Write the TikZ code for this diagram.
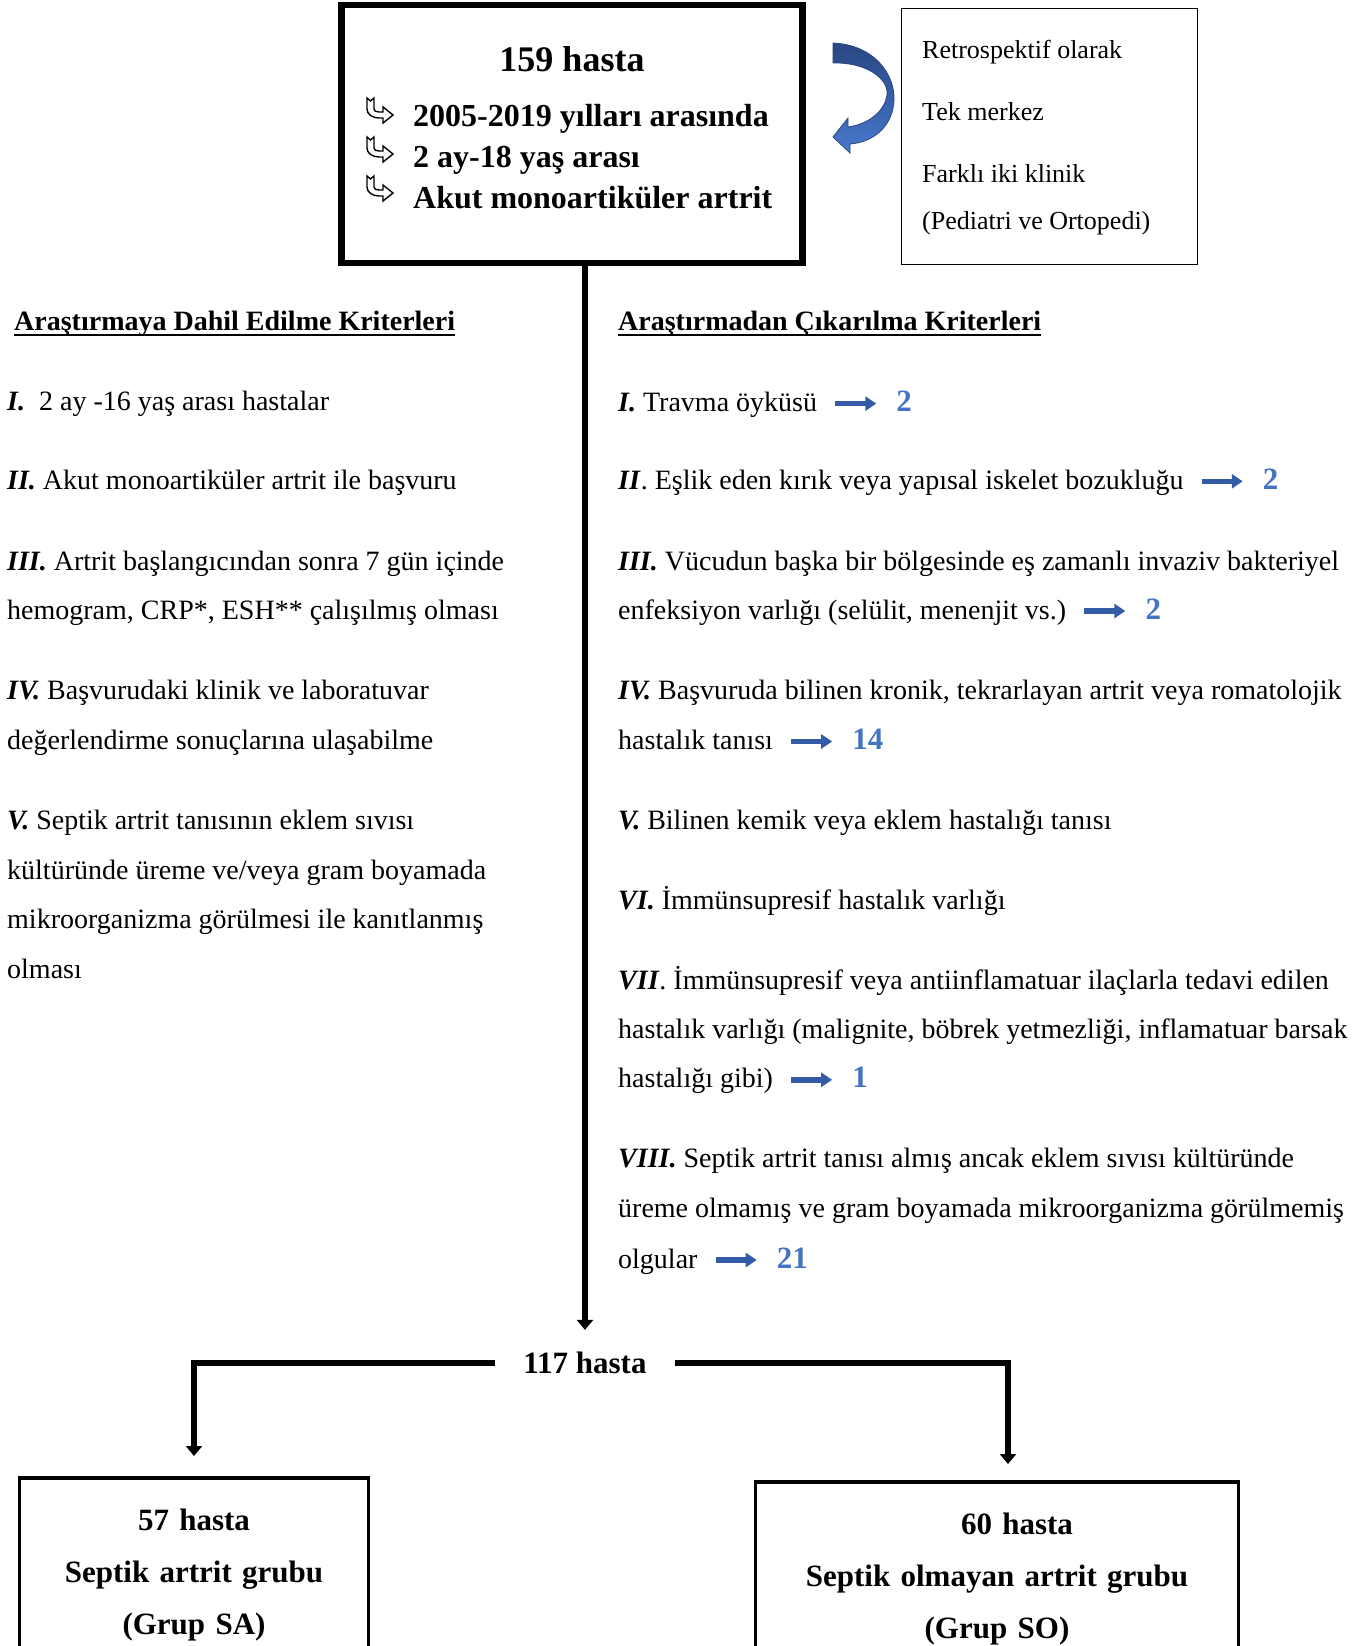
\documentclass[tikz,border=0pt]{standalone}
\usepackage{fontspec}
\setmainfont{Liberation Serif}
\usetikzlibrary{positioning, arrows.meta}

\definecolor{numblue}{RGB}{68,114,196}
\definecolor{arrowblue}{RGB}{52,92,166}
\definecolor{arrowdark}{RGB}{40,70,130}
\definecolor{arrowlight}{RGB}{72,120,205}

\newcommand{\critfont}{\fontsize{28}{49.5}\selectfont}
\newcommand{\romnum}[1]{\textbf{\textit{#1}}}
\newcommand{\hdrline}[1]{\setbox0\hbox{#1}\rlap{\rule[-5.5pt]{\wd0}{1.8pt}}\box0}

\tikzset{
  mainbox/.style = {draw, line width=6.5pt, minimum width=461pt, minimum height=258pt, inner sep=0pt},
  infobox/.style = {draw, line width=1.2pt, minimum width=296pt, minimum height=256pt, inner sep=0pt},
  groupbox/.style = {draw, line width=3.5pt, anchor=north, align=center, inner ysep=16.6pt,
    font=\fontsize{31}{52}\selectfont\bfseries},
  hub/.style = {font=\fontsize{31}{31}\selectfont\bfseries, inner xsep=28pt, inner ysep=22pt},
  crit/.style = {inner sep=0pt, anchor=base west, font=\critfont},
  critpar/.style = {crit, anchor=north west, align=left},
  hdr/.style = {inner sep=0pt, anchor=base west, font=\critfont\bfseries},
  count/.style = {inner sep=0pt, font=\fontsize{31}{31}\selectfont\bfseries, text=numblue},
  countarrow/.style = {draw=arrowblue, line width=5.5pt, -{Triangle[width=14pt,length=11pt]}},
  flow/.style = {line width=6pt, -{Triangle[width=16pt,length=10pt]}},
  hookbullet/.pic = {
    \draw[line width=1.4pt] (0,0) -- (3.5,3) -- (7,0) -- (7,11)
      .. controls (7,13) and (9,14) .. (12,14) -- (16,14) -- (16,9) -- (26,17)
      -- (16,25) -- (16,20) -- (12,20) .. controls (5,20) and (0,16) .. (0,11) -- cycle;
  }
}

\begin{document}
\begin{tikzpicture}[x=1pt, y=-1pt]
\useasboundingbox (0,0) rectangle (1365,1646);

% top part
\node[mainbox] (main) at (572,134) {};
\node[anchor=base, inner sep=0pt, font=\fontsize{36}{36}\selectfont\bfseries] (ttl) at (572,71) {159 hasta};
\node[anchor=north west, align=left, inner sep=0pt, font=\fontsize{32}{41}\selectfont\bfseries] (bul) at (413,97.3)
  {\strut 2005-2019 yılları arasında\\2 ay-18 yaş arası\\Akut monoartiküler artrit};
\pic at (367,98) {hookbullet};
\pic at (367,137) {hookbullet};
\pic at (367,176) {hookbullet};

\node[infobox] (info) at (1049.5,136.5) {};
\node[anchor=north west, align=left, inner sep=0pt, font=\fontsize{26}{47}\selectfont] (infotxt) at (922,24.9)
  {\strut Retrospektif olarak\\[15pt]Tek merkez\\[15pt]Farklı iki klinik\\(Pediatri ve Ortopedi)};

\shadedraw[top color=arrowdark, bottom color=arrowlight, draw=arrowdark, line width=0.8pt]
  (833,43) .. controls (875,45) and (895,75) .. (894,100)
  .. controls (893,125) and (875,142) .. (850,144) -- (850,153) -- (833,137) -- (848,118) -- (848,127)
  .. controls (870,124) and (885,110) .. (887,95) .. controls (889,78) and (865,62) .. (833,63) -- cycle;

% inclusion criteria
\node[hdr] (hdrin) at (14,330) {\hdrline{Araştırmaya Dahil Edilme Kriterleri}};
\node[crit] (in1) at (7,410.6) {\romnum{I.}\ \ 2 ay -16 yaş arası hastalar};
\node[crit] (in2) at (7,489.3) {\romnum{II.} Akut monoartiküler artrit ile başvuru};
\node[critpar] (in3) at (7,535.5) {\strut\romnum{III.} Artrit başlangıcından sonra 7 gün içinde\\hemogram, CRP*, ESH** çalışılmış olması};
\node[critpar] (in4) at (7,664.7) {\strut\romnum{IV.} Başvurudaki klinik ve laboratuvar\\değerlendirme sonuçlarına ulaşabilme};
\node[critpar] (in5) at (7,794.9) {\strut\romnum{V.} Septik artrit tanısının eklem sıvısı\\kültüründe üreme ve/veya gram boyamada\\mikroorganizma görülmesi ile kanıtlanmış\\olması};

% exclusion criteria
\node[hdr] (hdrex) at (618,330) {\hdrline{Araştırmadan Çıkarılma Kriterleri}};
\node[crit] (ex1) at (618,411.6) {\romnum{I.} Travma öyküsü};
\node[crit] (ex2) at (618,489.3) {\romnum{II}. Eşlik eden kırık veya yapısal iskelet bozukluğu};
\node[crit] (ex3) at (618,570) {\romnum{III.} Vücudun başka bir bölgesinde eş zamanlı invaziv bakteriyel};
\node[crit] (ex3b) at (618,619) {enfeksiyon varlığı (selülit, menenjit vs.)};
\node[crit] (ex4) at (618,699) {\romnum{IV.} Başvuruda bilinen kronik, tekrarlayan artrit veya romatolojik};
\node[crit] (ex4b) at (618,749.5) {hastalık tanısı};
\node[crit] (ex5) at (618,829.5) {\romnum{V.} Bilinen kemik veya eklem hastalığı tanısı};
\node[crit] (ex6) at (618,909.3) {\romnum{VI.} İmmünsupresif hastalık varlığı};
\node[critpar] (ex7) at (618,954.5) {\strut\romnum{VII}. İmmünsupresif veya antiinflamatuar ilaçlarla tedavi edilen\\hastalık varlığı (malignite, böbrek yetmezliği, inflamatuar barsak};
\node[crit] (ex7b) at (618,1087.8) {hastalığı gibi)};
\node[critpar] (ex8) at (618,1133) {\strut\romnum{VIII.} Septik artrit tanısı almış ancak eklem sıvısı kültüründe\\üreme olmamış ve gram boyamada mikroorganizma görülmemiş};
\node[crit] (ex8b) at (618,1268) {olgular};

% excluded counts
\node[count, base right=79pt of ex1] (c1) {2};
\node[count, base right=79pt of ex2] (c2) {2};
\node[count, base right=79pt of ex3b] (c3) {2};
\node[count, base right=79pt of ex4b] (c4) {14};
\node[count, base right=79pt of ex7b] (c7) {1};
\node[count, base right=79pt of ex8b] (c8) {21};
\draw[countarrow] ([xshift=18pt,yshift=8pt]ex1.base east) -- ([xshift=-20pt,yshift=8pt]c1.base west);
\draw[countarrow] ([xshift=18pt,yshift=8pt]ex2.base east) -- ([xshift=-20pt,yshift=8pt]c2.base west);
\draw[countarrow] ([xshift=18pt,yshift=8pt]ex3b.base east) -- ([xshift=-20pt,yshift=8pt]c3.base west);
\draw[countarrow] ([xshift=18pt,yshift=8pt]ex4b.base east) -- ([xshift=-20pt,yshift=8pt]c4.base west);
\draw[countarrow] ([xshift=18pt,yshift=8pt]ex7b.base east) -- ([xshift=-20pt,yshift=8pt]c7.base west);
\draw[countarrow] ([xshift=18pt,yshift=8pt]ex8b.base east) -- ([xshift=-20pt,yshift=8pt]c8.base west);

% split into groups
\node[hub] (n117) at (585,1363) {117 hasta};
\node[groupbox, minimum width=349pt, text width=310pt] (sa) at (194,1476)
  {\strut 57 hasta\\Septik artrit grubu\\(Grup SA)};
\node[groupbox, minimum width=483pt, text width=440pt] (so) at (997,1480)
  {\strut\hspace*{40pt}60 hasta\\Septik olmayan artrit grubu\\(Grup SO)};
\coordinate (sodrop) at ([xshift=11pt]so.north);
\draw[flow] (main.south -| n117) -- (n117.north);
\draw[flow, shorten >=20pt] (n117.west) -| (sa.north);
\draw[flow, shorten >=16pt] (n117.east) -| (sodrop);
\end{tikzpicture}
\end{document}
